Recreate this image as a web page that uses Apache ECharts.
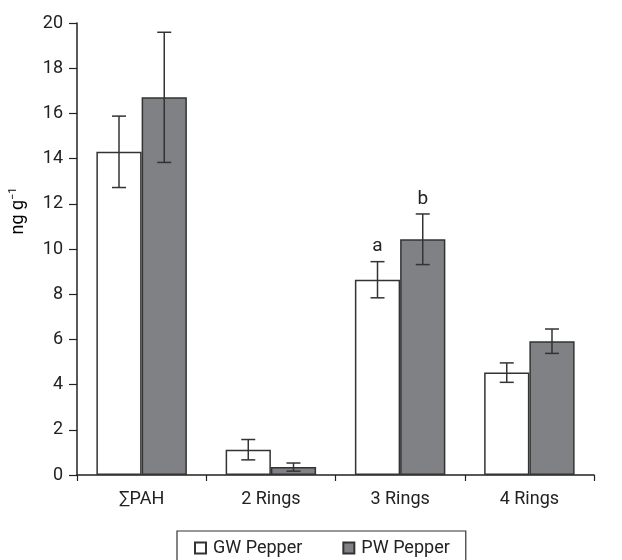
<!DOCTYPE html>
<html><head><meta charset="utf-8">
<script src="https://cdn.jsdelivr.net/npm/echarts@6/dist/echarts.min.js"></script>
<style>html,body{margin:0;padding:0;background:#fff}#c{width:622px;height:560px}</style>
</head><body><div id="c"></div>
<script>
var categories = ['\u2211PAH', '2 Rings', '3 Rings', '4 Rings'];
var gwValues = [14.3, 1.12, 8.64, 4.53];
var gwErrors = [1.58, 0.45, 0.8, 0.43];
var pwValues = [16.71, 0.35, 10.43, 5.92];
var pwErrors = [2.88, 0.18, 1.12, 0.54];
var gwLetters = ['', '', 'a', ''];
var pwLetters = ['', '', 'b', ''];
var seriesNames = ['GW Pepper', 'PW Pepper'];
var yTicks = [0, 20, 2];

var FONT = 'Roboto, sans-serif';
var BAR_FRAC = 0.35;

function errData(vals, errs, letters, side) {
  return vals.map(function (v, i) { return [i, v - errs[i], v + errs[i], side]; });
}
function renderErr(params, api) {
  var i = api.value(0), lo = api.value(1), hi = api.value(2), side = api.value(3);
  var band = api.size([1, 0])[0];
  var off = side * band * BAR_FRAC / 2;
  var pLo = api.coord([i, lo]), pHi = api.coord([i, hi]);
  var x = pLo[0] + off, cap = 7;
  var st = { stroke: '#333', lineWidth: 1.5 };
  var children = [
    { type: 'line', shape: { x1: x, y1: pLo[1], x2: x, y2: pHi[1] }, style: st },
    { type: 'line', shape: { x1: x - cap, y1: pLo[1], x2: x + cap, y2: pLo[1] }, style: st },
    { type: 'line', shape: { x1: x - cap, y1: pHi[1], x2: x + cap, y2: pHi[1] }, style: st }
  ];
  var letter = params.seriesIndex === 2 ? gwLetters[params.dataIndex] : pwLetters[params.dataIndex];
  if (letter) {
    children.push({ type: 'text', style: { text: letter, x: x, y: pHi[1] - 15, align: 'center', verticalAlign: 'middle', font: '19px ' + FONT, fill: '#222' } });
  }
  return { type: 'group', children: children };
}

var chart = echarts.init(document.getElementById('c'));
chart.setOption({
  animation: false,
  textStyle: { fontFamily: FONT },
  grid: { left: 77, right: 28, top: 23, bottom: 85 },
  legend: {
    data: seriesNames.map(function (n) { return { name: n, icon: 'rect' }; }),
    top: 531, left: 177,
    padding: [8, 16, 12, 17],
    itemGap: 40,
    itemWidth: 11, itemHeight: 11,
    borderColor: '#333', borderWidth: 1.2,
    textStyle: { fontSize: 18, color: '#222', fontFamily: FONT, padding: [0, 0, 0, 2] }
  },
  xAxis: {
    type: 'category', data: categories,
    axisLine: { lineStyle: { color: '#222', width: 1.5 } },
    axisTick: { show: true, length: 6, lineStyle: { color: '#222', width: 1.2 } },
    axisLabel: { fontSize: 18, color: '#222', margin: 15, fontFamily: FONT }
  },
  yAxis: {
    type: 'value', min: yTicks[0], max: yTicks[1], interval: yTicks[2],
    axisLine: { show: true, lineStyle: { color: '#222', width: 1.5 } },
    axisTick: { show: true, length: 8, lineStyle: { color: '#222', width: 1.2 } },
    axisLabel: { fontSize: 18, color: '#222', margin: 14, fontFamily: FONT },
    splitLine: { show: false }
  },
  graphic: [{
    type: 'text', x: 18, y: 211, rotation: Math.PI / 2,
    style: {
      text: '{a|ng g}{s|\u22121}', align: 'center', verticalAlign: 'middle',
      rich: { a: { fontSize: 18, fontFamily: FONT, color: '#222' }, s: { fontSize: 11, fontFamily: FONT, color: '#222', padding: [0, 0, 10, 0] } }
    }
  }],
  series: [
    { name: seriesNames[0], type: 'bar', data: gwValues, barWidth: (BAR_FRAC * 100) + '%', barGap: '0%',
      itemStyle: { color: '#ffffff', borderColor: '#333', borderWidth: 1.5 } },
    { name: seriesNames[1], type: 'bar', data: pwValues, barWidth: (BAR_FRAC * 100) + '%', barGap: '0%',
      itemStyle: { color: '#808184', borderColor: '#333', borderWidth: 1.5 } },
    { type: 'custom', renderItem: renderErr, data: errData(gwValues, gwErrors, gwLetters, -1), encode: { x: 0, y: [1, 2] }, z: 5 },
    { type: 'custom', renderItem: renderErr, data: errData(pwValues, pwErrors, pwLetters, 1), encode: { x: 0, y: [1, 2] }, z: 5 }
  ]
});
</script></body></html>
